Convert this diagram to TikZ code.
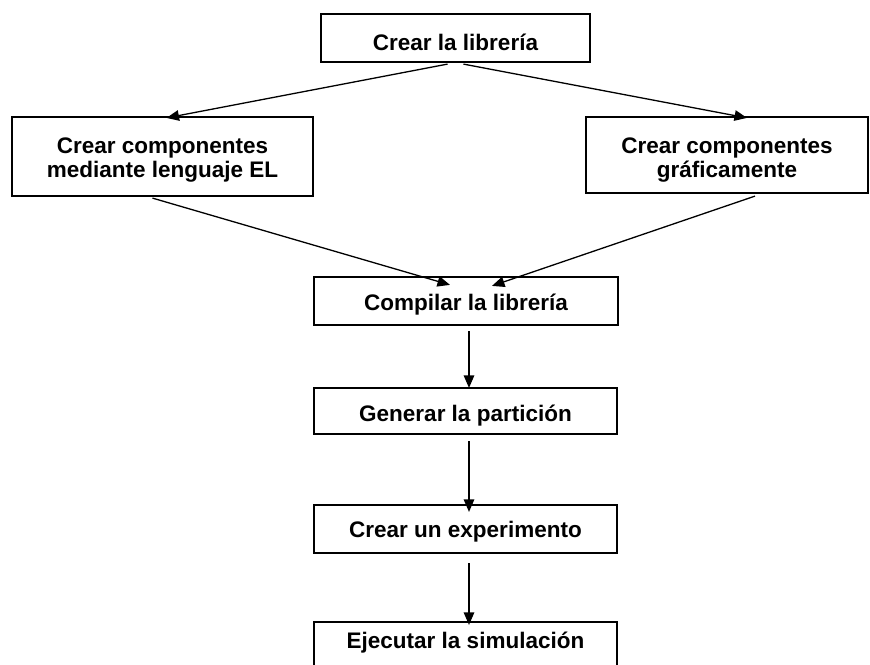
\documentclass[tikz,border=0pt]{standalone}
\usepackage{fontspec}
\setmainfont{Liberation Sans}
\usetikzlibrary{arrows.meta}
\tikzset{
  box/.style={draw=black, line width=2.2pt, fill=white, inner sep=0pt, align=center,
    text depth=0pt, font=\fontsize{22.5}{24}\selectfont\bfseries},
  arr/.style={draw=black, line width=1.3pt, -{Triangle[length=12.5pt,width=10.5pt]}}
}
\begin{document}
\begin{tikzpicture}[x=1pt,y=-1pt]
\useasboundingbox (0,0) rectangle (870,664);
\clip (0,0) rectangle (870,664);
\fill[white] (0,0) rectangle (870,664);
\node[box, minimum width=269pt, minimum height=48pt, text height=24pt] (A) at (455.5,38) {Crear la librería};
\node[box, minimum width=301pt, minimum height=79pt, text height=41pt] (B) at (162.5,156.5) {Crear componentes\\mediante lenguaje EL};
\node[box, minimum width=282pt, minimum height=76pt, text height=44pt] (C) at (727,155) {Crear componentes\\gráficamente};
\node[box, minimum width=304pt, minimum height=48pt, text height=19pt] (D) at (466,301) {Compilar la librería};
\node[box, minimum width=303pt, minimum height=46pt, text height=21pt] (E) at (465.5,411) {Generar la partición};
\node[box, minimum width=303pt, minimum height=48pt, text height=16pt] (F) at (465.5,529) {Crear un experimento};
\node[box, minimum width=303pt, minimum height=48pt, text height=4pt] (G) at (465.5,646) {Ejecutar la simulación};
\draw[arr] ([xshift=-8pt,yshift=-1pt]A.south) -- ([xshift=4pt,yshift=-2pt]B.north);
\draw[arr] ([xshift=8pt,yshift=-1pt]A.south) -- ([xshift=20pt,yshift=-2pt]C.north);
\draw[arr] ([xshift=-10pt,yshift=-1pt]B.south) -- ([xshift=-16pt,yshift=-9pt]D.north);
\draw[arr] ([xshift=28pt,yshift=-2pt]C.south) -- ([xshift=26pt,yshift=-10pt]D.north);
\draw[arr] ([xshift=3pt,yshift=-5pt]D.south) -- ([xshift=3.5pt,yshift=-1pt]E.north);
\draw[arr] ([xshift=3.5pt,yshift=-6pt]E.south) -- ([xshift=3.5pt,yshift=-8pt]F.north);
\draw[arr] ([xshift=3.5pt,yshift=-9pt]F.south) -- ([xshift=3.5pt,yshift=-4pt]G.north);
\end{tikzpicture}
\end{document}
